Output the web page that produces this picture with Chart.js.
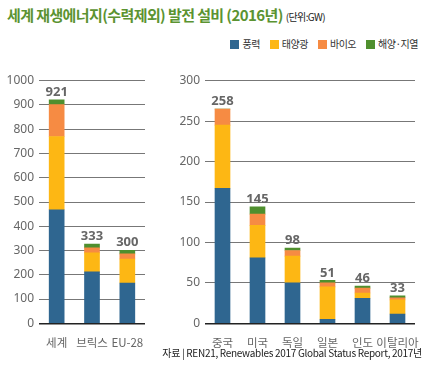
<!DOCTYPE html>
<html>
<head>
<meta charset="utf-8">
<script src="https://cdn.jsdelivr.net/npm/chart.js@4"></script>
<style>
  body { margin: 0; background: #fff; width: 435px; height: 368px; overflow: hidden; position: relative;
         font-family: "Noto Sans CJK KR", "Noto Sans", sans-serif; }
  #title { position: absolute; left: 7px; top: 4px; font-size: 15px; font-weight: bold; color: #5b9331;
           letter-spacing: -0.6px; white-space: nowrap; }
  #title span { font-size: 10px; font-weight: normal; color: #222; letter-spacing: -0.6px; margin-left: 3px; }
  #legend { position: absolute; right: 17px; top: 36px; font-size: 10px; color: #333; white-space: nowrap; }
  #legend .item { display: inline-block; margin-left: 10px; letter-spacing: -0.5px; }
  #legend .sw { display: inline-block; width: 9px; height: 9px; margin-right: 3px; vertical-align: -1px; }
  #source { position: absolute; right: 13px; top: 345px; font-size: 10px; color: #222; letter-spacing: -0.3px; white-space: nowrap; }
  canvas { position: absolute; }
</style>
</head>
<body>
<div id="title">세계 재생에너지(수력제외) 발전 설비 (2016년)<span>(단위:GW)</span></div>
<div id="legend"></div>
<canvas id="leftChart" style="left:0;top:60px" width="160" height="290"></canvas>
<canvas id="rightChart" style="left:160px;top:60px" width="270" height="290"></canvas>
<div id="source">자료 | REN21, Renewables 2017 Global Status Report, 2017년</div>
<script>
// ==================== DATA ====================
const seriesNames = ['풍력', '태양광', '바이오', '해양·지열'];
const seriesColors = ['#2f6690', '#fdb714', '#f68b43', '#4f8f2e'];

const leftCats = ['세계', '브릭스', 'EU-28'];
const leftWind = [468, 212, 166];
const leftSolar = [302, 78, 99];
const leftBio = [132, 21, 21];
const leftGeo = [19, 16, 15];
const leftTotals = [921, 333, 300];
const leftTicks = [0, 100, 200, 300, 400, 500, 600, 700, 800, 900, 1000];

const rightCats = ['중국', '미국', '독일', '일본', '인도', '이탈리아'];
const rightWind = [167, 81, 50, 5, 31, 11.5];
const rightSolar = [78, 40, 33, 40, 6.5, 17.5];
const rightBio = [20, 14, 7, 5, 6, 2.5];
const rightGeo = [0, 9, 3, 3, 2.5, 2.5];
const rightTotals = [258, 145, 98, 51, 46, 33];
const rightTicks = [0, 50, 100, 150, 200, 250, 300];

// legend
document.getElementById('legend').innerHTML = seriesNames.map((n, i) =>
  `<span class="item"><span class="sw" style="background:${seriesColors[i]}"></span>${n}</span>`).join('');

// total labels above each stack
const totalsPlugin = {
  id: 'totals',
  afterDatasetsDraw(chart, args, opts) {
    const { ctx } = chart;
    const yScale = chart.scales.y;
    const xScale = chart.scales.x;
    ctx.save();
    ctx.font = 'bold 13px "Noto Sans"';
    ctx.fillStyle = '#666';
    ctx.textAlign = 'center';
    ctx.textBaseline = 'bottom';
    opts.totals.forEach((t, i) => {
      const sum = chart.data.datasets.reduce((s, d) => s + d.data[i], 0);
      ctx.fillText(String(t), xScale.getPixelForValue(i), yScale.getPixelForValue(sum) - 1);
    });
    ctx.restore();
  }
};

function makeChart(id, cats, series, totals, ticks, yWidth, padRight) {
  const max = ticks[ticks.length - 1];
  const step = ticks[1] - ticks[0];
  return new Chart(document.getElementById(id), {
    type: 'bar',
    data: {
      labels: cats,
      datasets: series.map((d, i) => ({
        label: seriesNames[i],
        data: d,
        backgroundColor: seriesColors[i],
        barThickness: 15,
        borderWidth: 0
      }))
    },
    options: {
      responsive: false,
      animation: false,
      layout: { padding: { top: 20.7, right: padRight, bottom: 0, left: 0 } },
      plugins: { legend: { display: false }, tooltip: { enabled: false }, totals: { totals } },
      scales: {
        x: {
          stacked: true,
          grid: { display: false },
          border: { display: false },
          ticks: { color: '#666', font: { family: '"Noto Sans CJK KR"', size: 11.5 }, padding: 4,
                   maxRotation: 0, minRotation: 0, autoSkip: false },
          afterFit(s) { s.height = 26.7; }
        },
        y: {
          stacked: true,
          min: 0,
          max: max,
          ticks: { stepSize: step, color: '#666', font: { family: '"Noto Sans"', size: 12 }, padding: 5,
                   callback: v => String(v) },
          grid: {
            drawTicks: false,
            color: c => c.tick.value === 0 ? '#222' : '#777',
            lineWidth: c => c.tick.value === 0 ? 1.5 : 1
          },
          border: { display: false },
          afterFit(s) { s.width = yWidth; }
        }
      }
    },
    plugins: [totalsPlugin]
  });
}

makeChart('leftChart', leftCats, [leftWind, leftSolar, leftBio, leftGeo], leftTotals, leftTicks, 39, 15);
makeChart('rightChart', rightCats, [rightWind, rightSolar, rightBio, rightGeo], rightTotals, rightTicks, 45, 15);
</script>
</body>
</html>
